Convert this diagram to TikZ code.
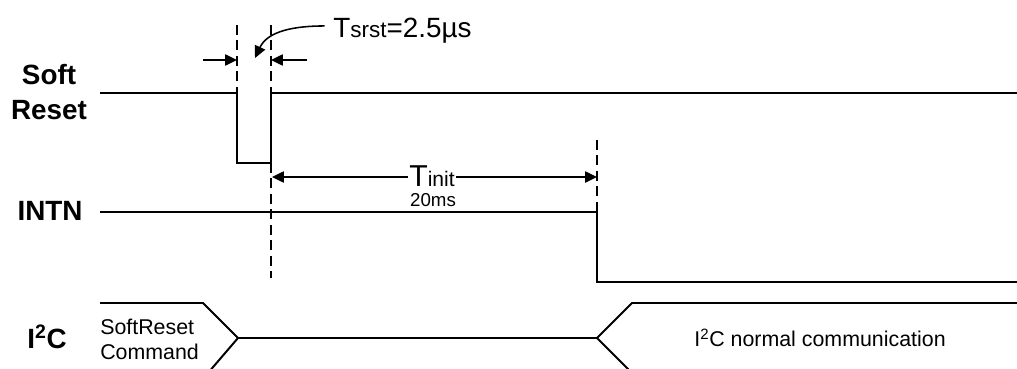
\documentclass[tikz,border=0pt]{standalone}
\usepackage{fontspec}
\setmainfont{Liberation Sans}
\usetikzlibrary{arrows.meta}
\tikzset{
  sig/.style={line width=1.4pt},
  guide/.style={line width=1.1pt, dash pattern=on 7pt off 4pt},
  dim/.style={line width=1.1pt, -{Triangle[length=8.5pt,width=8pt]}},
  lbl/.style={font=\fontsize{19.8}{24.8}\selectfont\bfseries, align=center, inner sep=0pt},
  bus/.style={font=\fontsize{15.2}{17.7}\selectfont, align=left, inner sep=0pt},
}
\begin{document}
\begin{tikzpicture}[x=0.025cm,y=-0.025cm]
\useasboundingbox (0,0) rectangle (1017,368);

% signal names
\node[lbl] (srname) at (49,92) {Soft\\Reset};
\node[lbl] (intnname) at (50,211) {INTN};
\node[lbl] (i2cname) at (47,337) {I\textsuperscript{2}C};

% waveforms
\draw[sig] (100,93) -- (237,93) -- (237,163) -- (271,163) -- (271,93) -- (1017,93);% Soft Reset
\draw[sig] (100,212) -- (597,212) -- (597,282) -- (1017,282);% INTN
\draw[sig] (100,303) -- (203,303) -- (238,338) -- (208,373);% I2C
\draw[sig] (238,338) -- (597,338);
\draw[sig] (1017,303) -- (632,303) -- (597,338) -- (632,373);

\node[bus, anchor=base west] (cmd) at (100,359) {SoftReset\\Command};
\node[bus] (normal) at (820,338) {I\textsuperscript{2}C normal communication};

% timing guides
\coordinate (g1) at (237,25);
\coordinate (g2) at (271,25);
\draw[guide] (g1) -- (237,93);
\draw[guide] (g2) -- (271,93);
\draw[guide] (271,163) -- (271,278);
\draw[guide] (597,140) -- (597,212);

% Tsrst
\coordinate (fall) at (237,60);
\coordinate (rise) at (271,60);
\coordinate (fallfrom) at (203,60);
\coordinate (risefrom) at (307,60);
\draw[dim] (fallfrom) -- (fall);
\draw[dim] (risefrom) -- (rise);
\node[anchor=base west, inner sep=0pt, font=\fontsize{19.8}{23}\selectfont] (tsrst) at (333,37) {T{\fontsize{16}{18}\selectfont srst}=2.5µs};
\coordinate (srsttip) at (255,58);
\draw[dim] ([xshift=-6pt,yshift=3pt]tsrst.west) to[out=180,in=65] (srsttip);

% Tinit
\coordinate (initA) at (272,177);
\coordinate (initB) at (597,177);
\draw[line width=1.1pt, {Triangle[length=8.5pt,width=8pt]}-{Triangle[length=8.5pt,width=8pt]}] (initA) -- (initB);
\node[anchor=base, fill=white, inner sep=1pt, text depth=0pt, font=\fontsize{21.5}{24}\selectfont] (tinit) at (432,186) {T{\fontsize{15}{18}\selectfont init}};
\node[anchor=base, inner sep=0pt, font=\fontsize{13.3}{16}\selectfont] (twenty) at (433,206) {20ms};
\end{tikzpicture}
\end{document}
